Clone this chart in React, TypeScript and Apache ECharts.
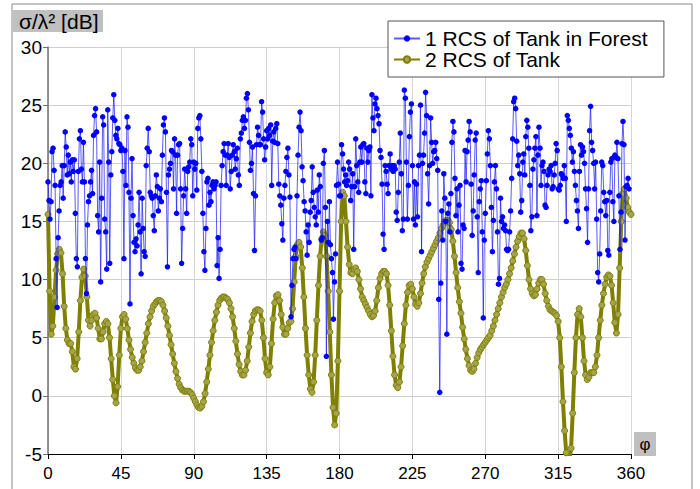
import React, { useEffect, useRef } from "react";
import * as echarts from "echarts";

const BLUE_NAME = "1 RCS of Tank in Forest";
const OLIVE_NAME = "2 RCS of Tank";
const Y_TITLE = "σ/λ² [dB]";
const X_TITLE = "φ";

// blue samples are evenly spaced from 0° to BLUE_END_ANGLE
const BLUE_END_ANGLE = 358.8;
const BLUE_VALUES = [
  // ~0..120°
  18.4, 16.8, 15.2, 16.7, 21, 21.3, 19.4, 18.1, 11.8, 7.6,
  13.6, 15.9, 18.1, 18.4, 19.8, 17.0, 19.8, 22.7, 21.4, 19,
  20.7, 19.1, 20.1, 18.4, 20.3, 19.3, 20.3, 15.7, 11.8, 11.1,
  19.3, 22.1, 22.8, 19.5, 18.4, 21.8, 18.4, 11.8, 8.8, 14.7,
  16.7, 17.2, 18.4, 19.4, 17.4, 22.4, 24.1, 24.7, 22.7, 15.5,
  14.1, 20.1, 9.8, 17.0, 24.0, 23.3, 15.2, 14.1, 10.9, 24.6,
  20.1, 11.4, 19, 21, 23.9, 25.9, 23.7, 22.4, 22.1, 23.0,
  21.7, 21.6, 21.1, 21.3, 19.3, 11.8, 21.1, 18.1, 24.0, 23.1,
  17.5, 7.9, 17.0, 20.4, 15.5, 13.2, 12.4, 13.5, 12.9, 14.7,
  17.5, 14.1, 10.5, 17.0, 14.4, 12.4, 12.0, 19.8, 21.3, 23.0,
  21, 17.5, 17.2, 17.0, 15.5, 14.2, 17.2, 19, 18.0, 15.9,
  17.0, 17.8, 16.7, 20.7, 23.3, 23.9, 22.7, 17.5, 11.1, 19,
  19.5, 20, 21.1, 21, 17.8, 22.1, 20.7, 15.7, 20.7, 21.6,
  21.7, 17.8, 11.4, 14.4, 17.2, 19.5, 17.8, 15.7, 19.3, 19.7,
  20.1, 22.1, 21.6, 17.2, 20.1, 19.5, 20, 17.7, 23.0, 23.9,
  24.1, 22.1, 19.3, 15.7, 12.4, 10.8, 14.4, 18.4, 18.7, 16.4,
  17.5, 16.7, 18.1, 18.4, 17.8, 18.1, 18.4, 11.2, 13.6, 10.1,
  12.6, 18.1, 19.8, 21, 21.7, 20.7, 18.1, 20.7, 21.7, 20.5,
  17.8, 19.3, 20.7, 21.6, 21, 19.5, 20.4, 21.3,
  // ~120..240°
  19, 18.1, 22.1, 22.6, 23.7, 24, 23, 23.7, 25.6, 26,
  24.6, 21.8, 19.4, 20, 21.4, 17.4, 12.5, 17.2, 21.6, 23.1,
  22.4, 21.6, 21.6, 25.3, 24.4, 22.1, 20.3, 21.4, 22.8, 22.1,
  23, 22.4, 23.3, 18.1, 21.9, 22.7, 21.8, 23, 23.4, 21.7,
  18.2, 17.2, 16.4, 14.8, 13.4, 17, 18.1, 19.3, 20.5, 21.3,
  19, 17.1, 6.8, 9.5, 11.8, 12.6, 12.8, 11.8, 17.2, 20.7,
  23.1, 24.4, 22.8, 19.7, 18.5, 16.7, 15.9, 14.1, 12.1, 14.7,
  13.2, 15.8, 16.8, 19.7, 17.5, 16.2, 15.4, 14.7, 17.7, 15.8,
  19, 18, 13.4, 13.6, 20, 21.1, 16.2, 3.4, 15, 13.2,
  16.7, 13, 11.8, 10.6, 6.6, 9.8, 12.2, 18.1, 20.1, 18.2,
  17.2, 17.2, 21.6, 20.8, 19.5, 18.4, 19, 18.1, 18.5, 20.1,
  19.5, 16.8, 18, 19.1, 12.6, 18, 22.1, 19.8, 18.4, 17.5,
  20.1, 21.4, 20.1, 21.6, 21.7, 18.4, 17.4, 21.3, 20.1, 21.1,
  21.4, 17.2, 25.9, 23.9, 22.8, 25.1, 25.6, 24.7, 24.1, 23.4,
  21.1, 20.5, 18.2, 13.9, 12.6, 19.8, 19.3, 18.2, 17.4, 19.8,
  20.8, 19.5, 19.8, 19.3, 19.8, 19.5, 15.8, 15.1, 17.5, 20.1,
  22.6, 19.1, 14.2, 15.2, 26.3, 25.6, 20.1, 15.2, 18.1, 22.3,
  24.4, 25.1, 19.8, 15.2, 18.4, 14.7, 18.2, 15.4, 19.8, 20.7,
  25, 12.4, 20, 20.7, 22.6, 26.1, 24.1, 19.1, 16.5, 19.8,
  23.9, 21.8, 20, 21, 21.1, 21.8,
  // ~240..359°
  20.4, 19.4, 8.3, 0.3, 9.7, 15.9, 13.4, 19.1, 17, 15,
  5.3, 15.7, 16.5, 14.1, 17.4, 21.8, 23.6, 22.7, 18.7, 15.5,
  17.8, 14.1, 16.4, 18.1, 11.4, 10.9, 14.7, 14.4, 21.1, 18.4,
  21, 22, 23.6, 22.7, 18.2, 13.8, 15.9, 19, 22, 22.6,
  15.4, 10.6, 16.7, 17.8, 18.5, 14.1, 6.7, 13.4, 15.7, 18.5,
  20.8, 22.8, 22.1, 19.8, 16.2, 12.4, 15.1, 18.4, 19.8, 17.8,
  14.1, 9.6, 10.1, 17, 15, 15.4, 14.4, 14.7, 14.2, 12.6,
  12.5, 12.6, 14.1, 15.9, 18.7, 22.1, 25.3, 25.6, 24.7, 21.9,
  19.8, 20.7, 19.1, 15.8, 16.8, 20.1, 20.8, 19, 22.3, 23.7,
  23.1, 21.3, 18.1, 14.2, 15.4, 19.5, 20.3, 21.3, 22.3, 15.5,
  20.7, 23.1, 21.3, 18.1, 19.8, 20.1, 19.3, 16.4, 16.2, 18.1,
  19, 19.5, 19.3, 19.8, 17.8, 18, 19, 20, 21.7, 21.1,
  17.8, 17.7, 18.1, 19.1, 19, 18.7, 19.8, 18.7, 15, 24.1,
  23.7, 23, 22.4, 21.3, 20.1, 21, 19.3, 18.1, 16.8, 15.9,
  14.4, 19.3, 21.6, 20.7, 21.4, 21, 20, 17.8, 16.1, 13.2,
  17.8, 22.8, 24.9, 21.8, 21.1, 20, 17.8, 20.1, 15.2, 10.6,
  9.8, 12.2, 15.9, 20.1, 19.8, 17.5, 16.7, 15.5, 16.8, 12.5,
  12.1, 17.5, 20.1, 20.4, 16.7, 15, 20.7, 20.5, 21.8, 20.4,
  17.2, 12.6, 15.8, 21.7, 23.6, 21.6, 13.4, 18, 18.1, 18.7,
  17.8,
];

// olive: one value per degree, 0..360
const OLIVE_VALUES = [
  15.6, 9, 5.3, 6, 8.5, 10.8, 12.2, 12.6, 12.3, 10.5,
  7.7, 5.8, 4.8, 4.5, 4.5, 3.8, 2.5, 2.3, 3.2, 5.5,
  8.2, 10.2, 10.9, 10.3, 8.5, 6.5, 6, 6.5, 7, 7.1,
  6.7, 5.8, 4.9, 4.9, 5.5, 6.2, 6.4, 6.2, 5, 3.2,
  1.4, 0, -0.6, 0.8, 3.5, 5.8, 6.8, 7, 6.6, 5.8,
  4.8, 4, 3.3, 2.8, 2.4, 2.2, 2.2, 2.5, 3, 3.8,
  4.6, 5.4, 6.2, 6.8, 7.3, 7.7, 7.9, 8.1, 8.2, 8.2,
  8.1, 7.8, 7.3, 6.7, 6, 5.2, 4.4, 3.6, 2.8, 2.1,
  1.5, 1, 0.7, 0.5, 0.4, 0.4, 0.4, 0.4, 0.3, 0.1,
  -0.2, -0.5, -0.8, -1, -1.05, -0.9, -0.5, 0.2, 1.2, 2.3,
  3.5, 4.6, 5.6, 6.5, 7.2, 7.8, 8.2, 8.4, 8.5, 8.5,
  8.4, 8.3, 8, 7.5, 6.8, 5.8, 4.7, 3.6, 2.7, 2.1,
  1.8, 1.8, 2.2, 3, 4.2, 5.4, 6.4, 7, 7.3, 7.4,
  7.4, 7.3, 6.5, 5, 3.2, 2, 1.8, 2.5, 4.5, 6.6,
  8, 8.6, 8.7, 8.2, 7, 5.9, 5.3, 5.3, 5.8, 6.3,
  6.4, 7.5, 9.8, 12, 13, 13.2, 12.8, 11, 8.5, 5.8,
  3.5, 1.8, 0.6, 0.3, 1.2, 3.5, 6.5, 9.5, 12, 13.5,
  14.1, 13.8, 12, 9, 5.5, 1.8, -1, -2.5, -1.5, 3,
  9, 15, 17.5, 17.2, 15, 12.8, 11.3, 10.6, 10.5, 10.9,
  11, 10.7, 10, 9.2, 8.5, 8.2, 7.9, 7.6, 7.3, 7,
  6.8, 6.9, 7.3, 8.2, 9.3, 10.1, 10.5, 10.7, 10.7, 10.5,
  9.5, 7.8, 5.6, 3.4, 1.8, 0.9, 0.7, 1.2, 2.5, 4.3,
  6.2, 7.8, 8.9, 9.5, 9.6, 9.2, 8.5, 7.9, 7.7, 8,
  8.8, 9.7, 10.5, 11.1, 11.5, 11.8, 12.1, 12.4, 12.7, 13,
  13.3, 13.6, 14, 14.4, 14.7, 15, 15.1, 15.1, 14.9, 14.3,
  13.3, 12, 10.6, 9.3, 8.1, 7.1, 5.9, 4.9, 4, 3.2,
  2.6, 2.2, 2.1, 2.3, 2.8, 3.3, 3.7, 4, 4.2, 4.4,
  4.6, 4.8, 5, 5.2, 5.6, 6, 6.5, 7, 7.5, 8,
  8.5, 8.9, 9.3, 9.6, 10, 10.5, 11, 11.6, 12.2, 12.8,
  13.3, 13.7, 14, 14, 13.5, 12.5, 11.2, 10, 9.2, 8.8,
  8.6, 8.7, 9.2, 9.7, 10, 10, 9.6, 8.8, 8.2, 7.7,
  7.4, 7.3, 7.2, 7.1, 6.9, 6.4, 5, 2.5, -0.5, -3,
  -4.9, -5.5, -5.5, -4.5, -1.5, 2, 5, 7, 7.5, 6.8,
  5, 3, 1.8, 1.4, 1.6, 2, 2, 2, 2.5, 3.5,
  5, 6.5, 7.8, 8.8, 9.6, 10.2, 10.4, 10.3, 9.5, 8,
  6.3, 5.4, 7, 11, 15, 17.4, 17.8, 17, 16.2, 15.8,
  15.6,
];

const FONT = "'Liberation Sans', Arial, sans-serif";
const OLIVE = "#808000";

export default function App() {
  const ref = useRef<HTMLDivElement>(null);
  useEffect(() => {
    const chart = echarts.init(ref.current!, null, { renderer: "svg" });
    const blueStep = BLUE_END_ANGLE / (BLUE_VALUES.length - 1);
    const blueData = BLUE_VALUES.map((v, i) => [i * blueStep, v]);
    const oliveData = OLIVE_VALUES.map((v, i) => [i, v]);
    chart.setOption({
      animation: false,
      backgroundColor: "#ffffff",
      grid: { left: 48, right: 69, top: 47, bottom: 35, containLabel: false },
      legend: {
        orient: "vertical",
        left: 388,
        top: 21,
        backgroundColor: "#ffffff",
        borderColor: "#555",
        borderWidth: 1,
        borderRadius: 0,
        padding: [7, 16, 7, 5],
        itemWidth: 26,
        itemHeight: 8,
        itemGap: 0,
        textStyle: { fontSize: 21, fontFamily: FONT, color: "#000", lineHeight: 21 },
        data: [BLUE_NAME, OLIVE_NAME],
      },
      xAxis: {
        type: "value",
        min: 0,
        max: 360,
        interval: 45,
        axisLine: { show: true, onZero: false, lineStyle: { color: "#000", width: 1 } },
        axisTick: { show: true, length: 5, lineStyle: { color: "#000" } },
        axisLabel: { fontSize: 17, fontFamily: FONT, color: "#000", margin: 11 },
        splitLine: { show: true, lineStyle: { color: "#d6d6d6", width: 1 } },
      },
      yAxis: {
        type: "value",
        min: -5,
        max: 30,
        interval: 5,
        axisLine: { show: true, onZero: false, lineStyle: { color: "#707070", width: 1.5 } },
        axisTick: { show: true, length: 5, lineStyle: { color: "#707070" } },
        axisLabel: { fontSize: 19, fontFamily: FONT, color: "#000", margin: 6 },
        splitLine: { show: true, lineStyle: { color: "#cfcfcf", width: 1 } },
      },
      graphic: [
        {
          type: "rect",
          shape: { x: 12, y: 4, width: 680, height: 500 },
          style: { fill: "none", stroke: "#8a8a8a", lineWidth: 1 },
          silent: true,
          z: -1,
        },
        {
          type: "rect",
          shape: { x: 13, y: 10, width: 90, height: 22 },
          style: { fill: "#c0c0c0" },
          silent: true,
        },
        {
          type: "text",
          x: 19,
          y: 21,
          style: {
            text: Y_TITLE,
            fontSize: 21,
            fontFamily: FONT,
            fill: "#000",
            verticalAlign: "middle",
            align: "left",
          },
          silent: true,
        },
        {
          type: "rect",
          shape: { x: 634, y: 432, width: 22, height: 24 },
          style: { fill: "#c0c0c0" },
          silent: true,
        },
        {
          type: "text",
          x: 645,
          y: 444,
          style: {
            text: X_TITLE,
            fontSize: 17,
            fontFamily: FONT,
            fill: "#000",
            verticalAlign: "middle",
            align: "center",
          },
          silent: true,
        },
      ],
      series: [
        {
          name: BLUE_NAME,
          type: "line",
          data: blueData,
          symbol: "circle",
          symbolSize: 5.5,
          showSymbol: true,
          itemStyle: { color: "#0000ff" },
          lineStyle: { color: "rgba(20,20,255,0.7)", width: 1 },
          z: 4,
        },
        {
          name: OLIVE_NAME,
          type: "line",
          data: oliveData,
          symbol: "circle",
          symbolSize: 6,
          showSymbol: true,
          itemStyle: { color: "#a4a450", borderColor: OLIVE, borderWidth: 1 },
          lineStyle: { color: OLIVE, width: 4 },
          z: 3,
        },
      ],
    });
    return () => chart.dispose();
  }, []);
  return (
    <div
      ref={ref}
      style={{ position: "fixed", left: 0, top: 0, width: 700, height: 489, background: "#fff" }}
    />
  );
}
